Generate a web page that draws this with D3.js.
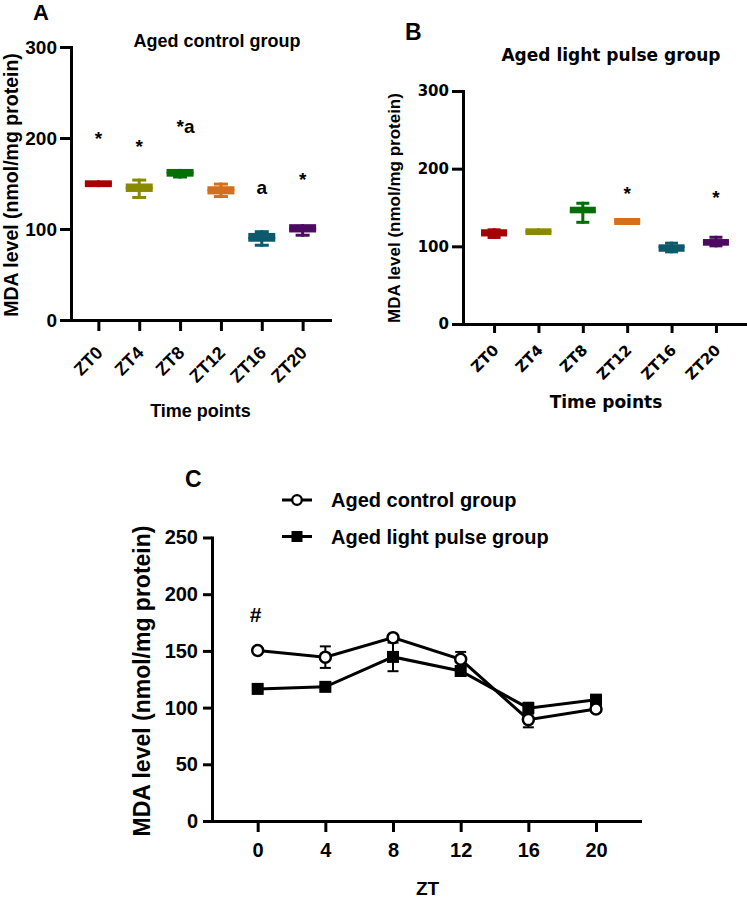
<!DOCTYPE html>
<html><head><meta charset="utf-8">
<script src="https://cdn.jsdelivr.net/npm/d3@7"></script>
<style>
body{margin:0;background:#fff}
svg{display:block}
text{font-family:"Liberation Sans",Arial,Helvetica,sans-serif;font-weight:bold;fill:#000}
.wide{font-family:"DejaVu Sans",sans-serif}
</style>
</head><body>
<svg id="chart" width="747" height="899"></svg>
<script>
// ---------- data ----------
const timePoints = ["ZT0","ZT4","ZT8","ZT12","ZT16","ZT20"];
const ztHours = [0,4,8,12,16,20];
const boxColors = ["#a50303","#8a8a02","#066e06","#d46f1c","#0c5a6c","#4c0a60"];
const yTicksAB = [0,100,200,300];
const yTicksC = [0,50,100,150,200,250];

// Panel A: aged control group (box plots)
const ctrlMin = [146, 133, 155.5, 134, 80.5, 91.5];
const ctrlQ1  = [146, 140.7, 157.5, 138, 86, 96.2];
const ctrlMed = [150, 145, 162, 143, 90, 100];
const ctrlQ3  = [153.5, 150, 166, 147, 95.7, 105.3];
const ctrlMax = [153.5, 155.4, 166, 151, 98.7, 105.3];
const ctrlMarks = ["*","*","*a","","a","*"];
const ctrlMarkLevel = [192, 183, 205, null, 139, 147];

// Panel B: aged light pulse group (box plots)
const lightMin = [109.5, 114.5, 129, 127.5, 91, 98.7];
const lightQ1  = [112.7, 114.5, 142.5, 127.5, 93, 100.8];
const lightMed = [117, 119, 145, 133, 99, 106];
const lightQ3  = [122, 123.2, 151, 136.5, 102.6, 109.4];
const lightMax = [123.2, 123.2, 157.4, 136.5, 106, 113.6];
const lightMarks = ["","","","*","","*"];
const lightMarkLevel = [null, null, null, 160, null, 155];

// Panel C: means ± SEM
const ctrlMean = [150.4, 144.5, 161.7, 142.6, 89.4, 98.8];
const ctrlSem  = [1.5, 9.5, 2, 6.5, 6.8, 2];
const lightMean = [116.5, 118.3, 144.7, 132.3, 99.5, 107];
const lightSem  = [2.5, 2, 12.6, 2.5, 4.8, 3];
const hashLevel = 175.5;

const svg = d3.select("#chart");

function styleAxis(g, w){
  g.select(".domain").attr("stroke","#000").attr("stroke-width",w).attr("stroke-linecap","square");
  g.selectAll(".tick line").attr("stroke","#000").attr("stroke-width",w);
}

// ---------- box panel ----------
function boxPanel(o){
  const x = d3.scalePoint().domain(timePoints).range(o.xr).padding(o.pad);
  const y = d3.scaleLinear().domain([0,300]).range(o.yr);
  const gy = svg.append("g").attr("transform",`translate(${o.xr[0]},0)`)
    .call(d3.axisLeft(y).tickValues(yTicksAB).tickSize(11).tickSizeOuter(0).tickPadding(3));
  styleAxis(gy,3);
  gy.selectAll(".tick text").attr("font-size",o.yTickFont).attr("class",o.wide?"wide":null)
    .attr("font-family",null).attr("fill","#000");
  const gx = svg.append("g").attr("transform",`translate(0,${o.yr[0]})`)
    .call(d3.axisBottom(x).tickSize(o.xTickLen).tickSizeOuter(0));
  styleAxis(gx,3);
  gx.selectAll(".tick text").attr("font-size",o.xTickFont).attr("class",o.wide?"wide":null)
    .attr("font-family",null).attr("fill","#000")
    .attr("text-anchor","end").attr("x",0).attr("y",0).attr("dy",0)
    .attr("transform",`translate(5,${o.xLabOff}) rotate(-45)`);

  const bw = o.boxW, cw = o.capW;
  const g = svg.append("g");
  timePoints.forEach((t,i)=>{
    const cx = x(t), col = boxColors[i];
    g.append("line").attr("x1",cx).attr("x2",cx).attr("y1",y(o.max[i])).attr("y2",y(o.min[i]))
      .attr("stroke",col).attr("stroke-width",3);
    if (o.max[i] > o.q3[i]) g.append("line").attr("x1",cx-cw/2).attr("x2",cx+cw/2)
      .attr("y1",y(o.max[i])+1.5).attr("y2",y(o.max[i])+1.5).attr("stroke",col).attr("stroke-width",3);
    if (o.min[i] < o.q1[i]) g.append("line").attr("x1",cx-cw/2).attr("x2",cx+cw/2)
      .attr("y1",y(o.min[i])-1.5).attr("y2",y(o.min[i])-1.5).attr("stroke",col).attr("stroke-width",3);
    g.append("rect").attr("x",cx-bw/2).attr("width",bw)
      .attr("y",y(o.q3[i])).attr("height",y(o.q1[i])-y(o.q3[i])).attr("fill",col);
    g.append("line").attr("x1",cx-bw/2).attr("x2",cx+bw/2).attr("y1",y(o.med[i])).attr("y2",y(o.med[i]))
      .attr("stroke",col).attr("stroke-width",2);
    if (o.marks[i]) {
      const s = o.marks[i];
      const tx = g.append("text").attr("font-size",19).attr("y",y(o.markLevel[i]));
      if (s === "*a") tx.attr("x",cx-3.5).attr("text-anchor","start").text(s);
      else tx.attr("x",cx).attr("text-anchor","middle").text(s);
    }
  });
}

boxPanel({xr:[71,330], yr:[320,47], pad:0.67, boxW:27, capW:14, xTickLen:11, xLabOff:34,
  yTickFont:19, xTickFont:18, wide:false,
  min:ctrlMin,q1:ctrlQ1,med:ctrlMed,q3:ctrlQ3,max:ctrlMax,marks:ctrlMarks,markLevel:ctrlMarkLevel});
boxPanel({xr:[463,747], yr:[324,91], pad:0.7, boxW:26, capW:13, xTickLen:9, xLabOff:27,
  yTickFont:15, xTickFont:15, wide:true,
  min:lightMin,q1:lightQ1,med:lightMed,q3:lightQ3,max:lightMax,marks:lightMarks,markLevel:lightMarkLevel});

// panel A texts
svg.append("text").attr("x",33).attr("y",20).attr("font-size",22).text("A");
svg.append("text").attr("x",217).attr("y",47).attr("text-anchor","middle").attr("font-size",18).text("Aged control group");
svg.append("text").attr("transform","translate(18,185) rotate(-90)").attr("text-anchor","middle").attr("font-size",19.5).text("MDA level (nmol/mg protein)");
svg.append("text").attr("x",200.5).attr("y",417).attr("text-anchor","middle").attr("font-size",18).text("Time points");

// panel B texts
svg.append("text").attr("x",405).attr("y",40).attr("font-size",23).text("B");
svg.append("text").attr("class","wide").attr("x",611).attr("y",61).attr("text-anchor","middle").attr("font-size",17).text("Aged light pulse group");
svg.append("text").attr("transform","translate(400,208) rotate(-90)").attr("text-anchor","middle").attr("font-size",17).text("MDA level (nmol/mg protein)");
svg.append("text").attr("class","wide").attr("x",606).attr("y",408).attr("text-anchor","middle").attr("font-size",17).text("Time points");

// ---------- panel C ----------
const xC = d3.scaleLinear().domain([-2.7,22.6]).range([212,640]);
const yC = d3.scaleLinear().domain([0,250]).range([821,537.5]);
const gyC = svg.append("g").attr("transform","translate(212,0)")
  .call(d3.axisLeft(yC).tickValues(yTicksC).tickSize(9).tickSizeOuter(0).tickPadding(5));
styleAxis(gyC,3);
gyC.selectAll(".tick text").attr("font-size",20).attr("font-family",null).attr("fill","#000");
const gxC = svg.append("g").attr("transform","translate(0,821)")
  .call(d3.axisBottom(xC).tickValues(ztHours).tickSize(11).tickSizeOuter(0).tickPadding(11));
styleAxis(gxC,3);
gxC.selectAll(".tick text").attr("font-size",20).attr("font-family",null).attr("fill","#000");

svg.append("text").attr("x",185).attr("y",487).attr("font-size",23).text("C");
svg.append("text").attr("transform","translate(150,681) rotate(-90)").attr("text-anchor","middle").attr("font-size",23).text("MDA level (nmol/mg protein)");
svg.append("text").attr("x",427.5).attr("y",895).attr("text-anchor","middle").attr("font-size",19).text("ZT");
svg.append("text").attr("x",xC(0)-2).attr("y",yC(hashLevel)).attr("text-anchor","middle").attr("font-size",21).text("#");

const line = d3.line().x((d,i)=>xC(ztHours[i])).y(d=>yC(d));
function series(mean, sem, marker){
  const g = svg.append("g");
  mean.forEach((m,i)=>{
    const cx = xC(ztHours[i]);
    g.append("line").attr("x1",cx).attr("x2",cx).attr("y1",yC(m+sem[i])).attr("y2",yC(m-sem[i])).attr("stroke","#000").attr("stroke-width",2);
    [m+sem[i], m-sem[i]].forEach(v=>g.append("line").attr("x1",cx-5.5).attr("x2",cx+5.5).attr("y1",yC(v)).attr("y2",yC(v)).attr("stroke","#000").attr("stroke-width",2));
  });
  g.append("path").attr("d",line(mean)).attr("fill","none").attr("stroke","#000").attr("stroke-width",3);
  mean.forEach((m,i)=>{
    const cx = xC(ztHours[i]), cy = yC(m);
    if (marker==="circle") g.append("circle").attr("cx",cx).attr("cy",cy).attr("r",5.5).attr("fill","#fff").attr("stroke","#000").attr("stroke-width",2.5);
    else g.append("rect").attr("x",cx-6).attr("y",cy-6).attr("width",12).attr("height",12).attr("fill","#000");
  });
}
series(lightMean, lightSem, "square");
series(ctrlMean, ctrlSem, "circle");

// legend
const legend = [{label:"Aged control group", marker:"circle"},{label:"Aged light pulse group", marker:"square"}];
legend.forEach((d,i)=>{
  const ly = 500 + i*36.5;
  svg.append("line").attr("x1",282).attr("x2",312).attr("y1",ly).attr("y2",ly).attr("stroke","#000").attr("stroke-width",3);
  if (d.marker==="circle") svg.append("circle").attr("cx",297).attr("cy",ly).attr("r",4.8).attr("fill","#fff").attr("stroke","#000").attr("stroke-width",2.3);
  else svg.append("rect").attr("x",291.5).attr("y",ly-5.5).attr("width",11).attr("height",11).attr("fill","#000");
  svg.append("text").attr("x",331).attr("y",ly+7).attr("font-size",20).text(d.label);
});
</script>
</body></html>
